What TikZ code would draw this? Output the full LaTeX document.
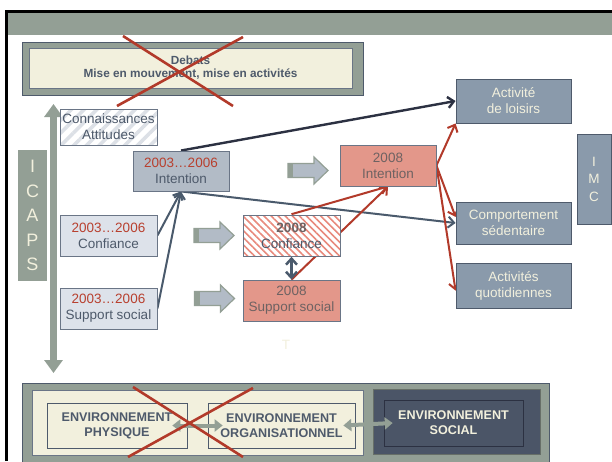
\documentclass[tikz,border=0pt]{standalone}
\usepackage{fontspec}
\setmainfont{Liberation Sans}
\usetikzlibrary{arrows.meta,patterns.meta}

\definecolor{framegray}{HTML}{939F95}
\definecolor{creamy}{HTML}{F2F0DD}
\definecolor{slatetxt}{HTML}{4E5A6B}
\definecolor{slateline}{HTML}{4A5A6C}
\definecolor{navyline}{HTML}{2C3142}
\definecolor{bluegray}{HTML}{8A9AAB}
\definecolor{midgray}{HTML}{B2BBC6}
\definecolor{lightgray}{HTML}{DDE2EA}
\definecolor{salmon}{HTML}{E3978A}
\definecolor{stripered}{HTML}{E8897C}
\definecolor{stripegray}{HTML}{DCE0E6}
\definecolor{redline}{HTML}{B23A2A}
\definecolor{yearred}{HTML}{B8402F}
\definecolor{newtxt}{HTML}{6E6262}
\definecolor{darkenv}{HTML}{4B5567}
\definecolor{boxedge}{HTML}{6A7586}

\pgfdeclarelayer{background}
\pgfdeclarelayer{links}
\pgfsetlayers{background,links,main}

% grey block arrow, centre x y
\newcommand{\fatarrow}[2]{%
  \begin{scope}[shift={(#1,#2)}]
    \filldraw[fill=midgray, draw=framegray, line width=1.2pt]
      (-20,-7) -- (6,-7) -- (6,-13.5) -- (20,0) -- (6,13.5) -- (6,7) -- (-20,7) -- cycle;
    \fill[framegray] (-20,-7) rectangle (-15,7);
  \end{scope}}

\begin{document}
\begin{tikzpicture}[x=1pt, y=-1pt,
  box/.style={rectangle, draw=boxedge, line width=0.9pt, inner sep=0pt, align=center,
    text=slatetxt, font=\fontsize{13.5}{16}\selectfont},
  oldbox/.style={box, fill=lightgray},
  newbox/.style={box, fill=salmon, text=newtxt},
  outbox/.style={box, fill=bluegray, draw=slatetxt, text=creamy},
  envbox/.style={box, draw=slatetxt, line width=0.7pt,
    font=\fontsize{12.6}{14.7}\selectfont\bfseries},
  cross/.style={redline, line width=2.6pt},
  link/.style={slateline, line width=2pt, -{Straight Barb[length=6pt,width=11pt]}},
  redlink/.style={redline, line width=2pt, -{Straight Barb[length=6pt,width=11pt]}},
  envlink/.style={framegray, line width=4pt, {Triangle[width=12pt,length=8pt]}-{Triangle[width=12pt,length=8pt]}}
]
\useasboundingbox (0,0) rectangle (612,461);
\begin{pgfonlayer}{background}
  \fill[white] (0,0) rectangle (612,461);
\end{pgfonlayer}

% frame and band
\fill[framegray] (7,12) rectangle (612,35);
\draw[black, line width=2.6pt] (6.5,461) -- (6.5,11.5) -- (612,11.5);

% debats
\filldraw[fill=framegray, draw=slatetxt, line width=0.6pt] (22,42) rectangle (363,95);
\node[box, fill=creamy, line width=0.7pt, minimum width=323pt, minimum height=40pt,
  font=\fontsize{11.8}{13}\selectfont\bfseries] (debats) at (190.5,68)
  {Debats\\Mise en mouvement, mise en activités};

% icaps axis
\coordinate (axtop) at (53.5,104);
\coordinate (axbot) at (53.5,373);
\draw[framegray, line width=7pt, {Triangle[width=18pt,length=13pt]}-{Triangle[width=18pt,length=13pt]}] (axtop) -- (axbot);
\node[rectangle, fill=framegray, minimum width=29pt, minimum height=131pt, inner sep=0pt,
  align=center, text=creamy, font=\fontsize{18}{24.5}\selectfont] (icaps) at (32.5,215.5)
  {I\\C\\A\\P\\S};

% boxes 2003-2006
\node[box, preaction={fill=white}, pattern={Lines[angle=45,distance=9pt,line width=3.5pt]},
  pattern color=stripegray, minimum width=97pt, minimum height=36pt] (conn) at (108.5,127)
  {Connaissances\\Attitudes};
\node[box, fill=midgray, minimum width=96pt, minimum height=40pt] (int03) at (181,171)
  {\textcolor{yearred}{2003…2006}\\Intention};
\node[oldbox, minimum width=97pt, minimum height=41pt] (conf03) at (108.5,235.5)
  {\textcolor{yearred}{2003…2006}\\Confiance};
\node[oldbox, minimum width=97pt, minimum height=41pt] (sup03) at (108.5,308.5)
  {\textcolor{yearred}{2003…2006}\\Support social};

\fatarrow{214}{235.5}
\fatarrow{214.5}{298.5}
\fatarrow{308}{170.5}

% boxes 2008
\node[box, preaction={fill=white}, pattern={Lines[angle=-45,distance=5pt,line width=1.6pt]},
  pattern color=stripered, minimum width=97pt, minimum height=41pt] (conf08) at (291.5,235.5)
  {\textcolor{newtxt}{\textbf{2008}}\\Confiance};
\node[newbox, minimum width=97pt, minimum height=41pt] (sup08) at (291.5,300.5)
  {2008\\Support social};
\node[newbox, minimum width=96pt, minimum height=41pt] (int08) at (388,165.5)
  {2008\\Intention};

% outcomes
\node[outbox, minimum width=115pt, minimum height=44pt] (loisirs) at (513.5,101)
  {Activité\\de loisirs};
\node[outbox, minimum width=115pt, minimum height=42pt] (sed) at (513.5,223)
  {Comportement\\sédentaire};
\node[outbox, minimum width=115pt, minimum height=45pt] (quot) at (513.5,285.5)
  {Activités\\quotidiennes};
\node[outbox, minimum width=34pt, minimum height=90pt, font=\fontsize{13.5}{17.5}\selectfont]
  (imc) at (594,179) {I\\M\\C};

\node[text=creamy, font=\fontsize{13.5}{16}\selectfont] (tee) at (286,345) {T};

% links
\begin{pgfonlayer}{links}
  \draw[navyline, line width=2.4pt, -{Straight Barb[length=6pt,width=11pt]}] (int03.north) -- (loisirs.west);
  \draw[link] (int03.south) -- (sed.west);
  \draw[link] (conf03.east) -- (int03.south);
  \draw[link] (sup03.east) -- (int03.south);
  \draw[redlink] (conf08.north) -- (int08.south);
  \draw[redlink] (sup08.north) -- (int08.south);
  \draw[slateline, line width=2.5pt, {Straight Barb[length=6pt,width=11pt]}-{Straight Barb[length=6pt,width=11pt]}] (conf08.south) -- (sup08.north);
  \draw[redlink] (int08.east) -- (loisirs.south west);
  \draw[redlink] (int08.east) -- (sed.174);
  \draw[redlink] (int08.east) -- (quot.185);
\end{pgfonlayer}

% environnement
\filldraw[fill=framegray, draw=slatetxt, line width=0.8pt] (22,383) rectangle (549,466);
\filldraw[fill=creamy, draw=boxedge, line width=0.6pt] (32,390) rectangle (363,455);
\filldraw[fill=darkenv, draw=framegray!70!black, line width=0.6pt] (373,389) rectangle (540,454);
\node[envbox, minimum width=140pt, minimum height=45pt] (envphys) at (117,425.5)
  {ENVIRONNEMENT\\PHYSIQUE};
\node[envbox, minimum width=147pt, minimum height=45pt] (envorg) at (281.5,425.5)
  {ENVIRONNEMENT\\ORGANISATIONNEL};
\node[envbox, draw=navyline, text=creamy, minimum width=139pt, minimum height=46pt] (envsoc) at (453.5,423)
  {ENVIRONNEMENT\\SOCIAL};
\draw[envlink] ([xshift=-15pt]envphys.east) -- ([xshift=15pt]envorg.west);
\draw[envlink] ([xshift=-12pt]envorg.east) -- ([xshift=9pt]envsoc.west);

% crosses
\draw[cross] (123,36) -- (233,106);
\draw[cross] (243,37) -- (117,106);
\draw[cross] (133,387) -- (243,457);
\draw[cross] (253,388) -- (128,457);
\end{tikzpicture}
\end{document}
